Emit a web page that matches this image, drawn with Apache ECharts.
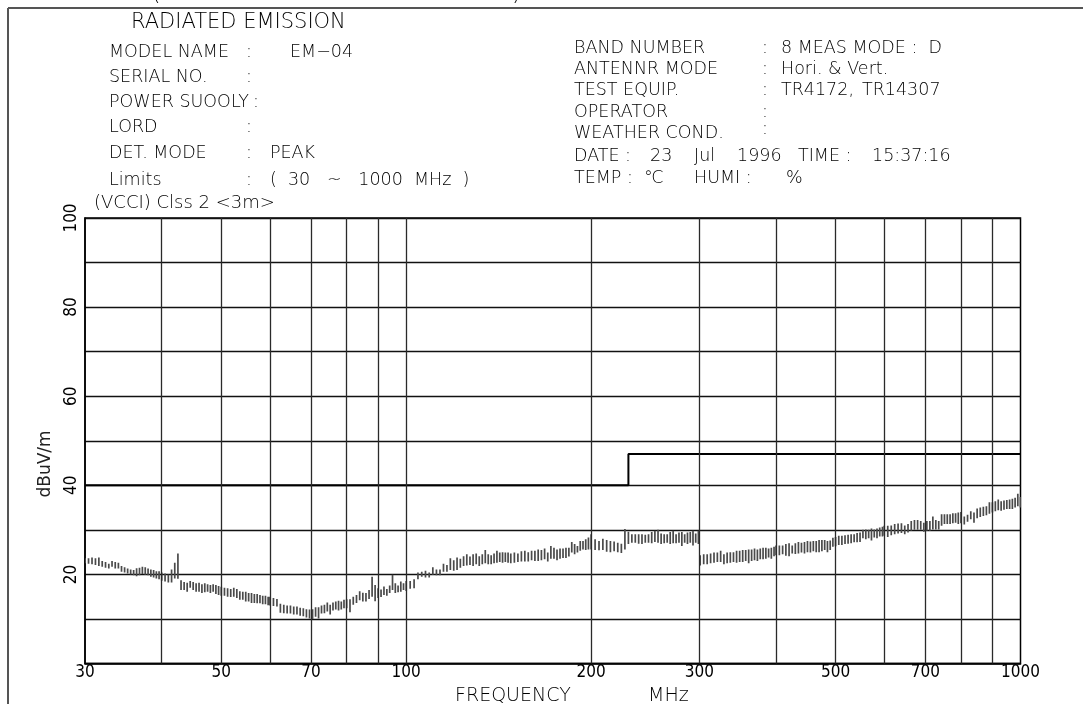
<!DOCTYPE html>
<html>
<head>
<meta charset="utf-8">
<script src="https://cdn.jsdelivr.net/npm/echarts@6/dist/echarts.min.js"></script>
<style>
html,body{margin:0;padding:0;background:#fff;}
#chart{width:1083px;height:704px;}
</style>
</head>
<body>
<div id="chart"></div>
<script>
// ---- data ----
const xTicks = [30, 50, 70, 100, 200, 300, 500, 700, 1000];
const xGrid = [40, 50, 60, 70, 80, 90, 100, 200, 300, 400, 500, 600, 700, 800, 900];
const yTicks = [20, 40, 60, 80, 100];
// limit (VCCI Class 2, 3 m) in dBuV/m
const limitLine = [[30, 40], [230, 40], [230, 47], [1000, 47]];
// peak trace: [frequency MHz, low dBuV/m, high dBuV/m]
const peakLow = [
 [30,22.5,23.6],[30.4,22.4,23.6],[30.8,22.3,23.8],[31.2,22.1,23.6],[31.6,21.9,23.8],[32,21.7,23.0],[32.4,21.5,22.8],[32.8,21.3,22.4],
 [33.2,21.7,23.0],[33.6,21.3,22.8],[34,21.3,22.6],[34.4,20.6,21.9],[34.8,20.4,21.6],[35.2,20.2,21.3],[35.6,20.0,21.1],[36,19.8,21.0],
 [36.4,19.6,21.4],[36.8,19.8,21.5],[37.2,20.1,21.7],[37.6,19.9,21.6],[38,19.8,21.3],[38.4,19.5,21.1],[38.8,19.3,21.0],[39.2,19.1,20.7],[39.6,18.9,20.7],
 [40,18.6,20.4],[40.5,18.4,20.2],[41,18.2,20.0],[41.5,18.2,21.1],[42,19.1,22.6],[42.5,19.0,24.7],[43,16.5,18.7],[43.5,16.5,18.3],
 [44,16.1,18.1],[44.5,17.0,18.5],[45,16.5,18.3],[45.5,16.1,18.0],[46,16.1,18.1],[46.5,15.8,17.8],[47,16.0,18.0],[47.5,16.1,17.8],
 [48,15.8,17.6],[48.5,16.1,17.8],[49,15.6,17.6],[49.5,15.4,17.4],
 [50,15.2,17.2],[50.6,15.2,17.0],[51.2,15.0,16.9],[51.8,14.9,16.7],[52.4,15.0,17.0],[53,14.7,16.7],[53.6,14.3,16.2],[54.2,14.3,16.1],
 [54.8,13.9,16.1],[55.4,13.9,15.8],[56,13.6,15.8],[56.6,13.6,15.6],[57.2,13.5,15.6],[57.8,13.5,15.4],[58.4,13.3,15.2],[59,13.3,15.2],[59.6,13.1,15.0],
 [60,13.0,15.0],[60.8,12.9,14.7],[61.6,12.8,14.5],[62.4,11.4,13.4],[63.2,11.3,13.2],[64,11.2,13.0],[64.8,11.2,13.0],[65.6,11.0,12.8],
 [66.4,11.0,12.8],[67.2,10.7,12.5],[68,10.6,12.4],[68.8,10.3,12.2],[69.6,10.1,12.1],[70.4,10.0,12.2],[71.2,10.5,12.6],[72,10.1,12.6],
 [72.8,11.2,13.0],[73.6,11.3,13.2],[74.4,11.7,13.7],[75.2,11.0,13.2],[76,11.9,13.7],[76.8,12.1,13.9],[77.6,11.9,14.1],[78.4,12.1,13.9],[79.2,12.4,14.3],
 [80,12.4,14.4],[81,11.5,14.4],[82,13.2,15.0],[83,13.6,15.4],[84,14.2,16.2],[85,13.9,15.9],[86,13.9,15.8],[87,14.5,16.5],
 [88,15.0,19.5],[89,14.0,17.6],[90,14.7,16.9],[91,14.9,16.6],[92,15.4,17.3],[93,15.2,16.7],[94,15.8,17.5],[95,16.5,19.9],
 [96,15.8,18.0],[97,16.0,17.5],[98,16.1,18.4],[99,16.5,18.0]
];
const peakMid = [
 [100,16.3,18.5],[101.5,16.8,18.5],[103,16.9,18.9],[104.5,18.9,20.4],[106,19.5,20.6],[107.5,19.3,20.8],[109,19.3,20.4],[110.5,19.9,21.6],
 [112,19.8,21.1],[113.5,19.8,21.1],[115,20.6,22.4],[116.5,20.6,22.1],[118,21.0,23.6],[119.5,20.8,23.2],[121,21.0,23.8],[122.5,21.5,23.5],
 [124,21.9,24.1],[125.5,22.0,24.5],[127,22.1,24.0],[128.5,21.9,24.5],[130,22.3,24.7],[131.5,21.9,24.1],[133,22.3,24.5],[134.5,22.5,25.5],
 [136,22.3,24.5],[137.5,22.3,24.3],[139,22.5,24.7],[140.5,22.6,25.3],[142,22.8,24.9],[143.5,22.6,25.0],[145,22.8,24.9],[146.5,22.6,24.9],[148,22.5,24.7],
 [150,22.6,24.9],[152,22.8,24.7],[154,22.9,25.2],[156,22.9,25.3],[158,22.9,25.0],[160,23.2,25.3],[162,23.0,25.3],[164,23.0,25.6],
 [166,23.2,25.5],[168,23.4,25.8],[170,22.9,24.9],[172,23.5,26.4],[174,23.5,26.0],[176,23.2,25.6],[178,23.5,25.8],[180,23.7,25.8],
 [182,23.7,26.0],[184,24.0,26.0],[186,24.9,27.3],[188,24.5,26.8],[190,24.9,26.4],[192,25.3,27.5],[194,25.6,27.5],[196,25.5,27.9],[198,25.6,28.3],
 [200,25.6,29.0],[203,25.5,27.9],[206,25.4,27.5],[209,25.5,28.0],[212,25.1,27.7],[215,25.0,27.5],[218,25.2,27.4],[221,25.0,27.1],
 [224,24.8,26.9],[227,25.6,30.2],[230,26.8,29.6],[233,27.1,29.0],[236,27.1,29.0],[239,26.9,29.0],[242,26.8,29.0],[245,27.1,28.9],
 [248,27.1,29.0],[251,27.0,29.5],[254,27.3,29.8],[257,27.1,30.0],[260,26.8,29.2],[263,27.0,29.0],[266,27.1,29.0],[269,26.8,29.5],
 [272,27.0,29.8],[275,27.0,29.0],[278,27.1,29.4],[281,26.4,29.5],[284,27.1,29.0],[287,26.8,29.4],[290,27.1,29.5],[293,26.5,29.8],
 [296,27.1,29.2],[299,26.8,29.8]
];
const peakHigh = [
 [301,22.0,24.3],[305,22.3,24.5],[309,22.3,24.5],[313,22.5,24.7],[317,22.6,24.9],[321,22.8,24.9],[325,22.8,25.3],[329,22.3,24.5],
 [333,22.5,24.9],[337,22.6,25.0],[341,22.8,25.0],[345,22.6,25.3],[349,22.8,25.3],[353,22.8,25.5],[357,23.0,25.5],[361,22.5,25.6],
 [365,23.0,25.6],[369,23.2,25.8],[373,23.0,25.6],[377,23.4,25.8],[381,23.4,26.0],[385,23.5,26.0],[389,23.8,25.8],[393,23.5,26.0],[397,24.1,26.2],
 [400,24.3,26.5],[405,24.3,26.5],[410,24.5,26.5],[415,24.2,26.8],[420,24.1,27.0],[425,24.7,26.5],[430,24.6,27.0],[435,24.7,27.3],
 [440,24.9,27.1],[445,24.7,27.3],[450,25.0,27.5],[455,24.9,27.4],[460,25.2,27.5],[465,25.0,27.5],[470,25.0,27.7],[475,25.2,27.7],
 [480,25.5,27.7],[485,25.0,27.5],[490,25.5,27.6],[495,26.2,28.2],
 [500,26.3,28.4],[506,26.6,28.7],[512,26.6,28.7],[518,26.8,28.8],[524,26.9,28.9],[530,27.0,29.0],[536,27.2,29.0],[542,27.2,29.3],
 [548,27.3,29.4],[554,28.1,30.0],[560,27.9,30.1],[566,28.1,30.0],[572,27.6,30.3],[578,28.3,30.1],[584,28.1,30.3],[590,28.5,30.5],[596,28.5,30.7],
 [600,28.7,30.9],[608,28.4,30.9],[616,28.8,31.0],[624,29.0,31.3],[632,29.2,31.4],[640,29.3,31.5],[648,29.0,31.0],[656,29.4,31.3],
 [664,29.8,32.0],[672,30.0,32.2],[680,30.0,32.2],[688,30.0,32.0],[696,29.6,31.6],[704,29.8,32.0],[712,29.8,32.0],[720,30.1,33.0],
 [728,30.1,32.2],[736,30.1,32.0],[744,30.9,33.5],[752,31.3,33.5],[760,31.3,33.5],[768,31.3,33.5],[776,31.5,33.7],[784,31.6,33.7],[792,31.3,33.9],
 [800,31.5,34.0],[810,31.2,33.0],[820,31.8,33.4],[830,32.4,34.2],[840,31.6,33.9],[850,32.6,34.8],[860,32.9,35.0],[870,33.1,35.2],
 [880,33.3,35.3],[890,33.6,36.2],[900,33.9,36.2],[910,34.2,36.4],[920,34.4,36.8],[930,34.3,36.4],[940,34.5,36.6],[950,34.7,36.7],
 [960,34.7,36.8],[970,34.7,37.0],[980,35.0,37.2],[990,35.3,38.1],[1000,35.0,37.4]
];
// header text: [label, colon, value, y]
const headerLeft = [
 ['MODEL NAME', ':', 'EM\u221204', 52.5],
 ['SERIAL NO.', ':', '', 77.5],
 ['POWER SUOOLY', '', '', 102.5],
 ['LORD', ':', '', 127],
 ['DET. MODE', ':', 'PEAK', 153],
 ['Limits', ':', '(  30   ~   1000  MHz  )', 180]
];
const headerRight = [
 ['BAND NUMBER', ':', '8 MEAS MODE :  D', 48],
 ['ANTENNR MODE', ':', 'Hori. & Vert.', 69],
 ['TEST EQUIP.', ':', '', 90],
 ['OPERATOR', ':', '', 112],
 ['WEATHER COND.', ':', '', 133]
];
// pieces on the date / temperature lines: [text, x]
const dateLine = [['DATE :', 574], ['23', 650], ['Jul', 694], ['1996', 737], ['TIME :', 798], ['15:37:16', 872]];
const tempLine = [['TEMP :', 574], ['\u2103', 644], ['HUMI :', 694], ['%', 786]];

// ---- drawing ----
const trace = peakLow.concat(peakMid, peakHigh);
const HF = "'DejaVu Sans', 'Liberation Sans', sans-serif";
const NF = "'DejaVu Sans Condensed', 'Liberation Sans Narrow', 'Liberation Sans', sans-serif";
const INK = '#000';
const HS = 17.5;
const HW = '200';

function txt(x, y, s, size, opt) {
  opt = opt || {};
  return {
    type: 'text', x: x, y: y, rotation: opt.rotation || 0, silent: true,
    style: {
      text: s, fill: opt.fill || INK,
      font: (opt.weight || HW) + ' ' + size + 'px ' + (opt.family || HF),
      align: opt.align || 'left', verticalAlign: 'middle'
    }
  };
}

const graphics = [];
// page frame
graphics.push({type: 'line', silent: true, shape: {x1: 8, y1: 8, x2: 1083, y2: 8}, style: {stroke: '#555', lineWidth: 2}});
graphics.push({type: 'line', silent: true, shape: {x1: 8, y1: 8, x2: 8, y2: 704}, style: {stroke: '#555', lineWidth: 2}});
graphics.push(txt(152, -6, '(', 22));
graphics.push(txt(512, -6, ')', 22));
graphics.push(txt(131, 23, 'RADIATED EMISSION', 21));
headerLeft.forEach(function (r) {
  graphics.push(txt(109, r[3], r[0], HS));
  if (r[1]) graphics.push(txt(246, r[3], r[1], HS));
  if (r[2]) graphics.push(txt(r[2].indexOf('EM') === 0 ? 290 : 270, r[3], r[2], HS));
});
graphics.push(txt(253, 102.5, ':', HS));
headerRight.forEach(function (r) {
  graphics.push(txt(574, r[3], r[0], HS));
  graphics.push(txt(762, r[3] - (r[0] === 'WEATHER COND.' ? 4 : 0), r[1], HS));
  if (r[2]) graphics.push(txt(781, r[3], r[2], HS));
});
graphics.push(txt(781, 90, 'TR4172,', HS));
graphics.push(txt(862, 90, 'TR14307', HS));
dateLine.forEach(function (p) { graphics.push(txt(p[1], 156, p[0], HS)); });
tempLine.forEach(function (p) { graphics.push(txt(p[1], 178, p[0], HS)); });
graphics.push(txt(94, 203, '(VCCI) Clss 2 <3m>', 18));
graphics.push(txt(46, 464, 'dBuV/m', 17, {rotation: Math.PI / 2, align: 'center', weight: 'normal', fill: '#222'}));
graphics.push(txt(455, 696, 'FREQUENCY', 19));
graphics.push(txt(648, 696, 'MHz', 19));

const chart = echarts.init(document.getElementById('chart'), null, {renderer: 'canvas'});
chart.setOption({
  animation: false,
  backgroundColor: '#fff',
  grid: {left: 85, right: 62.5, top: 218, bottom: 40.5, show: true, borderColor: '#000', borderWidth: 1.5, backgroundColor: 'transparent'},
  xAxis: {
    type: 'log', logBase: 10, min: 30, max: 1000,
    axisLine: {show: true, lineStyle: {color: '#000', width: 1.5}},
    axisTick: {show: false},
    splitLine: {show: false},
    minorTick: {show: false}, minorSplitLine: {show: false},
    axisLabel: {
      customValues: xTicks, margin: 1, color: INK,
      fontFamily: NF, fontSize: 17, fontWeight: HW,
      formatter: function (v) { return String(Math.round(v)); }
    }
  },
  yAxis: {
    type: 'value', min: 0, max: 100, interval: 10,
    axisLine: {show: true, lineStyle: {color: '#000', width: 1.5}},
    axisTick: {show: false},
    splitLine: {show: true, lineStyle: {color: '#111', width: 1.3}},
    axisLabel: {
      rotate: 90, margin: 5, color: INK, fontFamily: NF, fontSize: 17, fontWeight: HW,
      formatter: function (v) { return yTicks.indexOf(v) >= 0 ? String(v) : ''; }
    }
  },
  series: [
    {
      name: 'grid', type: 'line', data: [], silent: true, z: 1,
      markLine: {
        silent: true, symbol: ['none', 'none'], label: {show: false},
        lineStyle: {color: '#2a2a2a', width: 1.3, type: 'solid'},
        emphasis: {disabled: true},
        data: xGrid.map(function (f) { return {xAxis: f}; })
      }
    },
    {
      name: 'peak', type: 'custom', z: 3, clip: true,
      data: trace,
      encode: {x: 0, y: [1, 2]},
      renderItem: function (params, api) {
        var f = api.value(0), lo = api.value(1), hi = api.value(2);
        var a = api.coord([f, lo]), b = api.coord([f, hi]);
        return {type: 'line', shape: {x1: a[0], y1: a[1], x2: b[0], y2: b[1]}, style: {stroke: '#4a4a4a', lineWidth: 1.7}};
      }
    },
    {
      name: 'limit', type: 'line', data: limitLine, z: 4, silent: true,
      symbol: 'none', lineStyle: {color: '#000', width: 2}
    }
  ],
  graphic: graphics
});
</script>
</body>
</html>
